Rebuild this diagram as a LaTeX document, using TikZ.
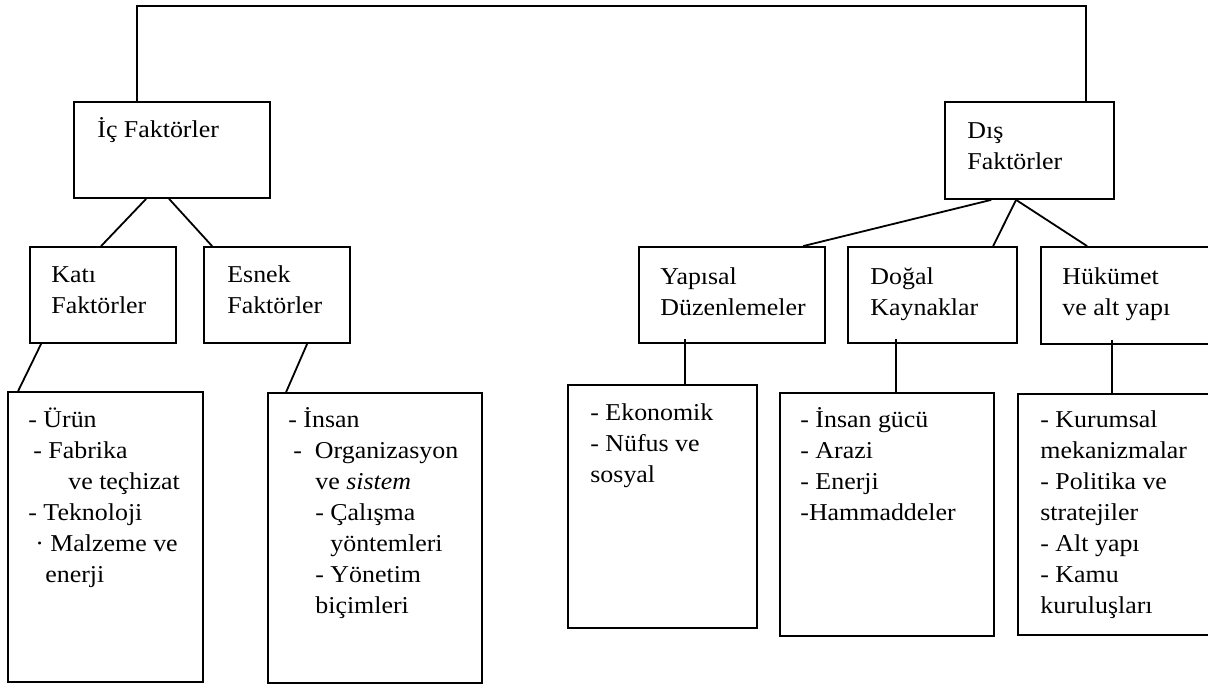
\documentclass[tikz,border=0pt]{standalone}
\usepackage{fontspec}
\setmainfont[FakeStretch=1.07]{Liberation Serif}
\usetikzlibrary{calc,fit}
\tikzset{
  box/.style={draw, line width=0.9pt, inner sep=0pt, fit={#1}},
  txt/.style={anchor=base west, align=left, inner sep=0pt,
    font=\fontsize{12.1}{15.5}\selectfont}
}
\begin{document}
\begin{tikzpicture}[x=0.5pt,y=-0.5pt]
  \clip (0,0) rectangle (1208,685);
  \node[box={(74,102) (270,198)}] (ic) {};
  \node[box={(945,102) (1114,199)}] (dis) {};
  \node[box={(30,247) (176,343)}] (kati) {};
  \node[box={(204,247) (350,343)}] (esnek) {};
  \node[box={(639,247) (825,343)}] (yapisal) {};
  \node[box={(848,247) (1017,343)}] (dogal) {};
  \node[box={(1041,247) (1240,344)}] (hukumet) {};
  \node[box={(8,392) (203,682)}] (katiL) {};
  \node[box={(268,393) (482,683)}] (esnekL) {};
  \node[box={(568,385) (757,628)}] (yapisalL) {};
  \node[box={(780,393) (994,636)}] (dogalL) {};
  \node[box={(1018,394) (1240,635)}] (hukumetL) {};

  \node[txt] (icT) at (97,137) {İç Faktörler};
  \node[txt] (disT) at (967,169) {Dış\\Faktörler};
  \node[txt] (katiT) at (51,313) {Katı\\Faktörler};
  \node[txt] (esnekT) at (227,313) {Esnek\\Faktörler};
  \node[txt] (yapisalT) at (660,315) {Yapısal\\Düzenlemeler};
  \node[txt] (dogalT) at (870,315) {Doğal\\Kaynaklar};
  \node[txt] (hukumetT) at (1062,315) {Hükümet\\ve alt yapı};
  \node[txt] (katiLT) at (28,582) {- Ürün\\
    \hspace*{2.5pt}- Fabrika\\
    \hspace*{20pt}ve teçhizat\\
    - Teknoloji\\
    \hspace*{3.5pt}· Malzeme ve\\
    \hspace*{8.5pt}enerji};
  \node[txt] (esnekLT) at (288,613) {- İnsan\\
    \hspace*{2.5pt}-~~Organizasyon\\
    \hspace*{13.5pt}ve \textit{sistem}\\
    \hspace*{13.5pt}- Çalışma\\
    \hspace*{21pt}yöntemleri\\
    \hspace*{13.5pt}- Yönetim\\
    \hspace*{13.5pt}biçimleri};
  \node[txt] (yapisalLT) at (590,482) {- Ekonomik\\- Nüfus ve\\sosyal};
  \node[txt] (dogalLT) at (800,520) {- İnsan gücü\\- Arazi\\- Enerji\\-Hammaddeler};
  \node[txt] (hukumetLT) at (1040,613) {- Kurumsal\\mekanizmalar\\- Politika ve\\stratejiler\\- Alt yapı\\- Kamu\\kuruluşları};

  \coordinate (topL) at (137,6);
  \coordinate (topR) at (1086,6);
  \begin{scope}[line width=0.9pt]
    \draw (ic.north -| topL) -- (topL) -- (topR) -- (dis.north -| topR);
    \draw ($(ic.south west)+(73,0)$) -- ($(kati.north west)+(72,0)$);
    \draw ($(ic.south west)+(96,0)$) -- ($(esnek.north west)+(9,0)$);
    \draw ($(kati.south west)+(12,0)$) -- ($(katiL.north west)+(11,0)$);
    \draw ($(esnek.south west)+(104,0)$) -- ($(esnekL.north west)+(19,0)$);
    \draw ($(dis.south west)+(47,0)$) -- ($(yapisal.north west)+(165,0)$);
    \draw ($(dis.south west)+(72,0)$) -- ($(dogal.north west)+(146,0)$);
    \draw ($(dis.south west)+(72,0)$) -- ($(hukumet.north west)+(47,0)$);
    \draw ($(yapisal.south west)+(47,-5)$) -- ($(yapisalL.north west)+(118,0)$);
    \draw ($(dogal.south west)+(49,-5)$) -- ($(dogalL.north west)+(117,0)$);
    \draw ($(hukumet.south west)+(72,-5)$) -- ($(hukumetL.north west)+(95,0)$);
  \end{scope}
\end{tikzpicture}
\end{document}
